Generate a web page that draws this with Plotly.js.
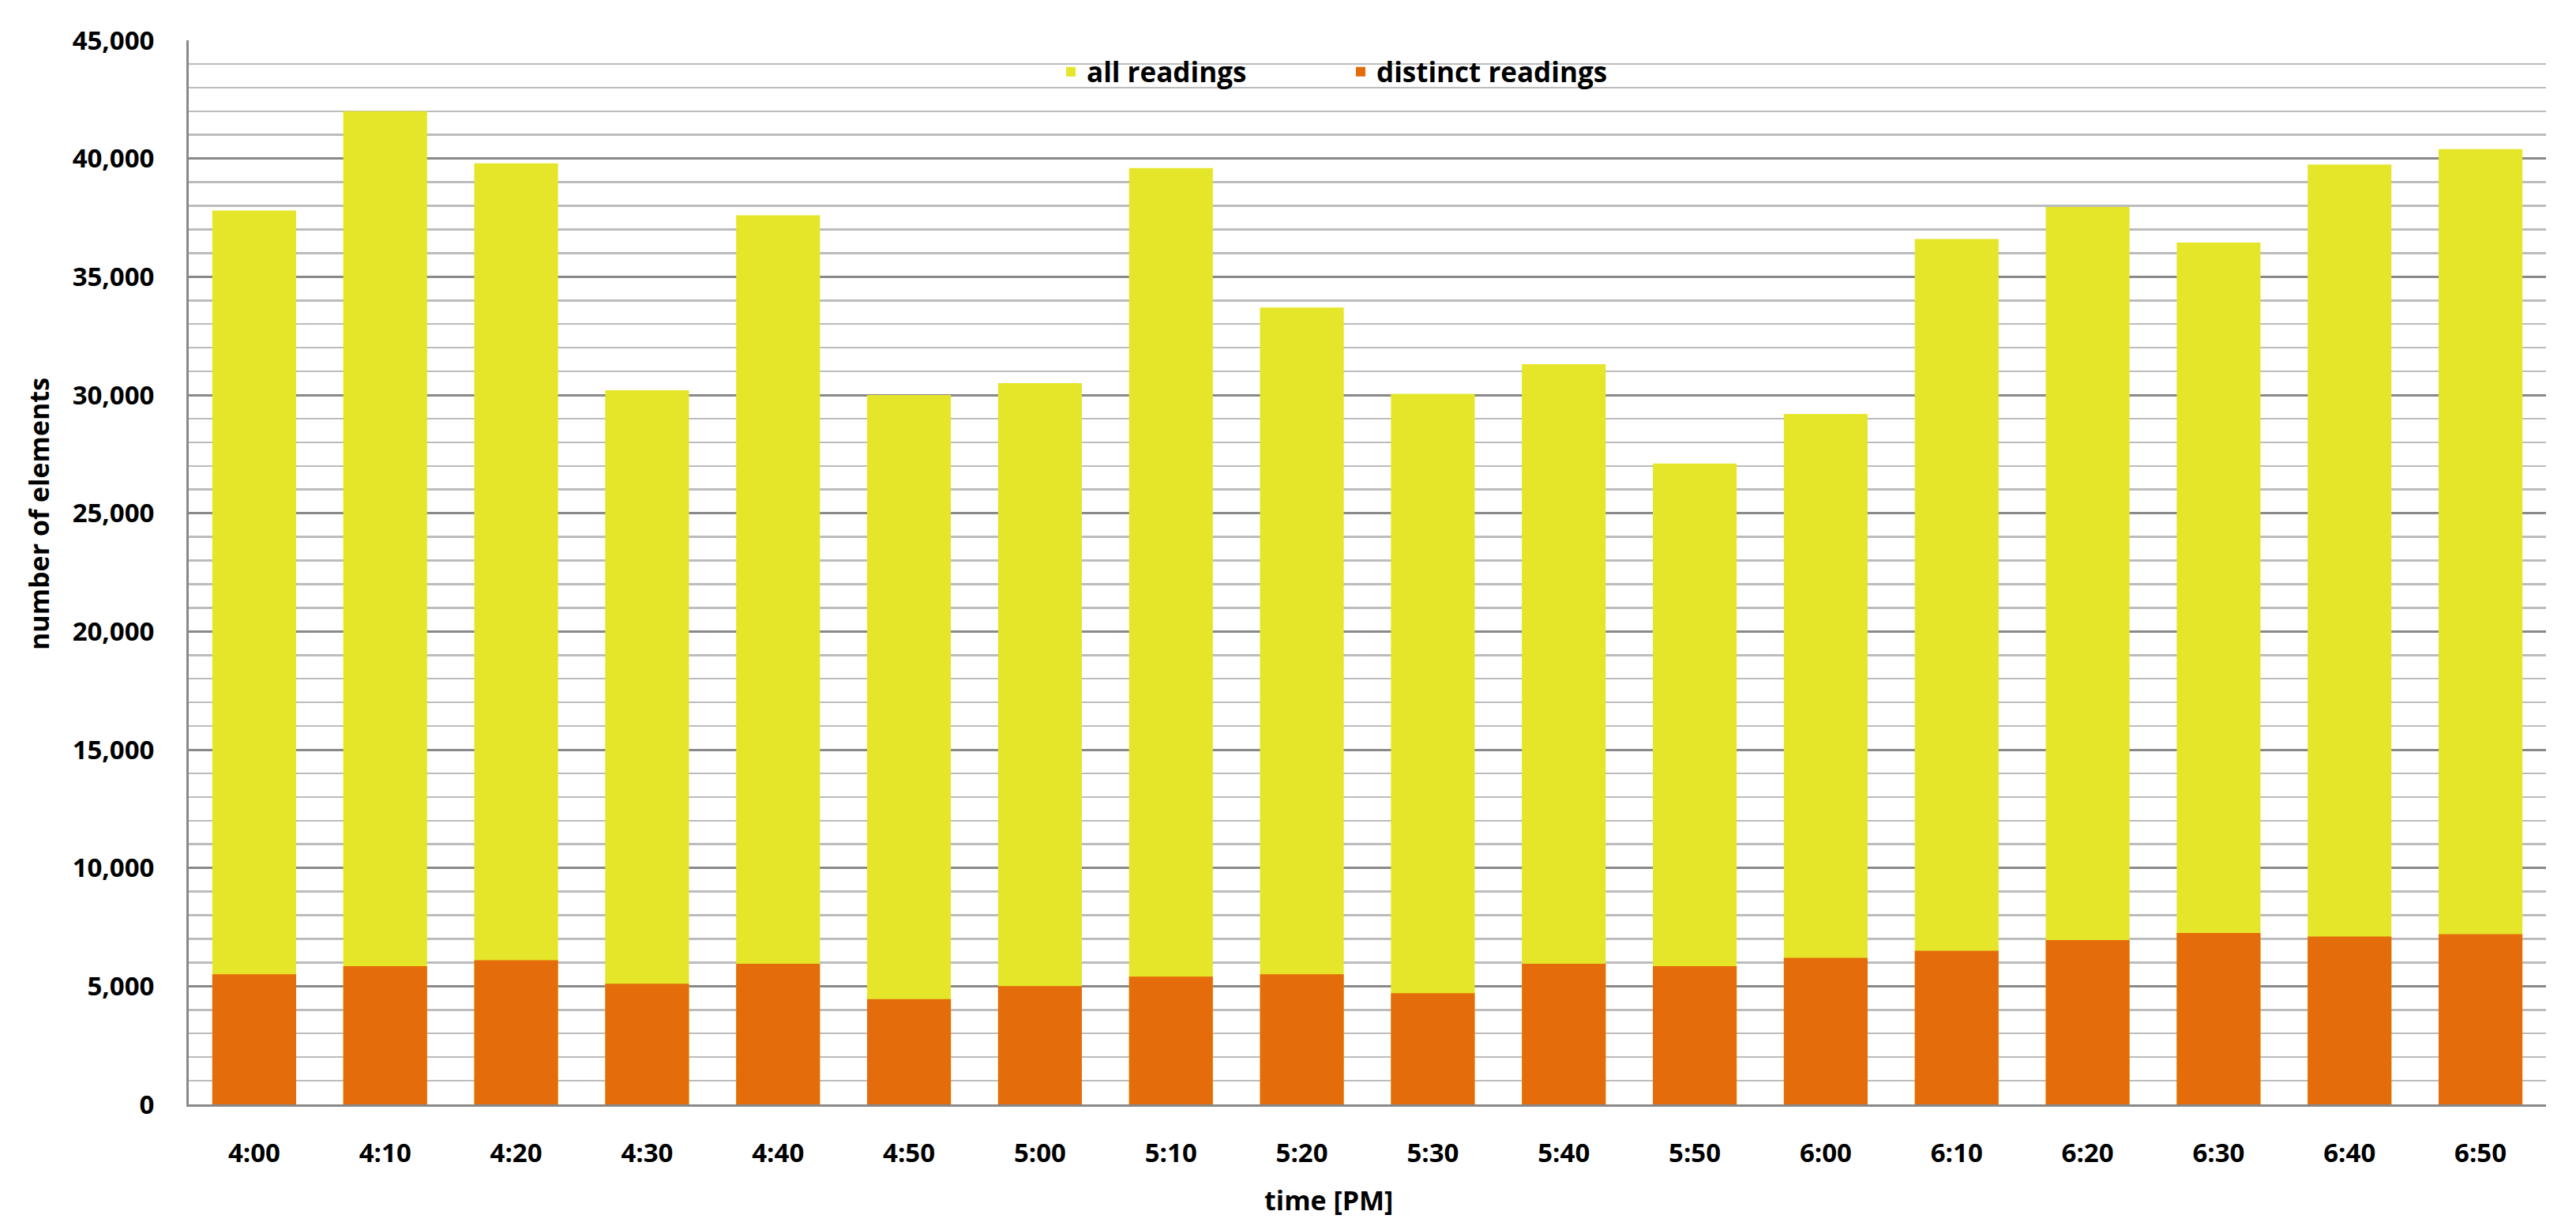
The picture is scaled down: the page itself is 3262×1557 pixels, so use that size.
<!DOCTYPE html>
<html>
<head>
<meta charset="utf-8">
<script src="https://cdn.plot.ly/plotly-3.0.1.min.js"></script>
<style>
  html, body { margin: 0; padding: 0; background: #ffffff; }
  #chart { width: 3262px; height: 1557px; }
</style>
</head>
<body>
<div id="chart"></div>
<script>
// ---- data ----
const times = ["4:00","4:10","4:20","4:30","4:40","4:50","5:00","5:10","5:20",
               "5:30","5:40","5:50","6:00","6:10","6:20","6:30","6:40","6:50"];
const allReadings = [37800, 42000, 39800, 30200, 37600, 30000, 30500, 39600, 33700,
                     30050, 31300, 27100, 29200, 36600, 37950, 36450, 39750, 40400];
const distinctReadings = [5500, 5850, 6100, 5100, 5950, 4450, 5000, 5400, 5500,
                          4700, 5950, 5850, 6200, 6500, 6950, 7250, 7100, 7200];
const yTicks = [0, 5000, 10000, 15000, 20000, 25000, 30000, 35000, 40000, 45000];
const seriesNames = ["all readings", "distinct readings"];
const xTitle = "time [PM]";
const yTitle = "number of elements";

const FONT = "'Open Sans', 'Noto Sans', 'Liberation Sans', sans-serif";
const W = 3262, H = 1557;
const M = {l: 239, r: 38, t: 51, b: 159};
const plotW = W - M.l - M.r, plotH = H - M.t - M.b;

const traces = [
  {
    type: "bar", name: seriesNames[0], x: times, y: allReadings,
    marker: {color: "#E5E62A", line: {width: 0}}, hoverinfo: "x+y+name"
  },
  {
    type: "bar", name: seriesNames[1], x: times, y: distinctReadings,
    marker: {color: "#E46C0A", line: {width: 0}}, hoverinfo: "x+y+name"
  }
];

const layout = {
  width: W, height: H,
  margin: M,
  paper_bgcolor: "#ffffff", plot_bgcolor: "#ffffff",
  barmode: "overlay",
  bargap: 0.36,
  font: {family: FONT, size: 33, color: "#000000", weight: 700},
  showlegend: true,
  legend: {
    orientation: "h",
    x: (1336 - M.l) / plotW, xanchor: "left",
    y: (M.t + plotH - 91) / plotH, yanchor: "middle",
    bgcolor: "rgba(0,0,0,0)",
    font: {family: FONT, size: 35, color: "#000000", weight: 700},
    entrywidth: 322, entrywidthmode: "pixels",
    traceorder: "normal"
  },
  xaxis: {
    type: "category",
    showgrid: false,
    showline: true, linecolor: "#898989", linewidth: 3,
    ticks: "", ticklabelstandoff: 30,
    tickfont: {family: FONT, size: 33, color: "#000000", weight: 700},
    zeroline: false, fixedrange: true
  },
  yaxis: {
    range: [0, 45000],
    tickvals: yTicks,
    tickformat: ",d",
    showgrid: true, gridcolor: "#898989", gridwidth: 3,
    minor: {dtick: 1000, showgrid: true, gridcolor: "#bcbcbc", gridwidth: 2.5, ticks: ""},
    showline: true, linecolor: "#898989", linewidth: 3,
    ticks: "", ticklabelstandoff: 34,
    tickfont: {family: FONT, size: 33, color: "#000000", weight: 700},
    zeroline: false, fixedrange: true
  },
  annotations: [
    {
      text: yTitle, xref: "paper", yref: "paper",
      x: (49 - M.l) / plotW, y: (M.t + plotH - 651) / plotH,
      xanchor: "center", yanchor: "middle", textangle: -90, showarrow: false,
      font: {family: FONT, size: 34, color: "#000000", weight: 700}
    },
    {
      text: xTitle, xref: "paper", yref: "paper",
      x: (1682 - M.l) / plotW, y: (M.t + plotH - 1519) / plotH,
      xanchor: "center", yanchor: "middle", showarrow: false,
      font: {family: FONT, size: 34, color: "#000000", weight: 700}
    }
  ]
};

Plotly.newPlot("chart", traces, layout, {displayModeBar: false, staticPlot: true});
</script>
</body>
</html>
